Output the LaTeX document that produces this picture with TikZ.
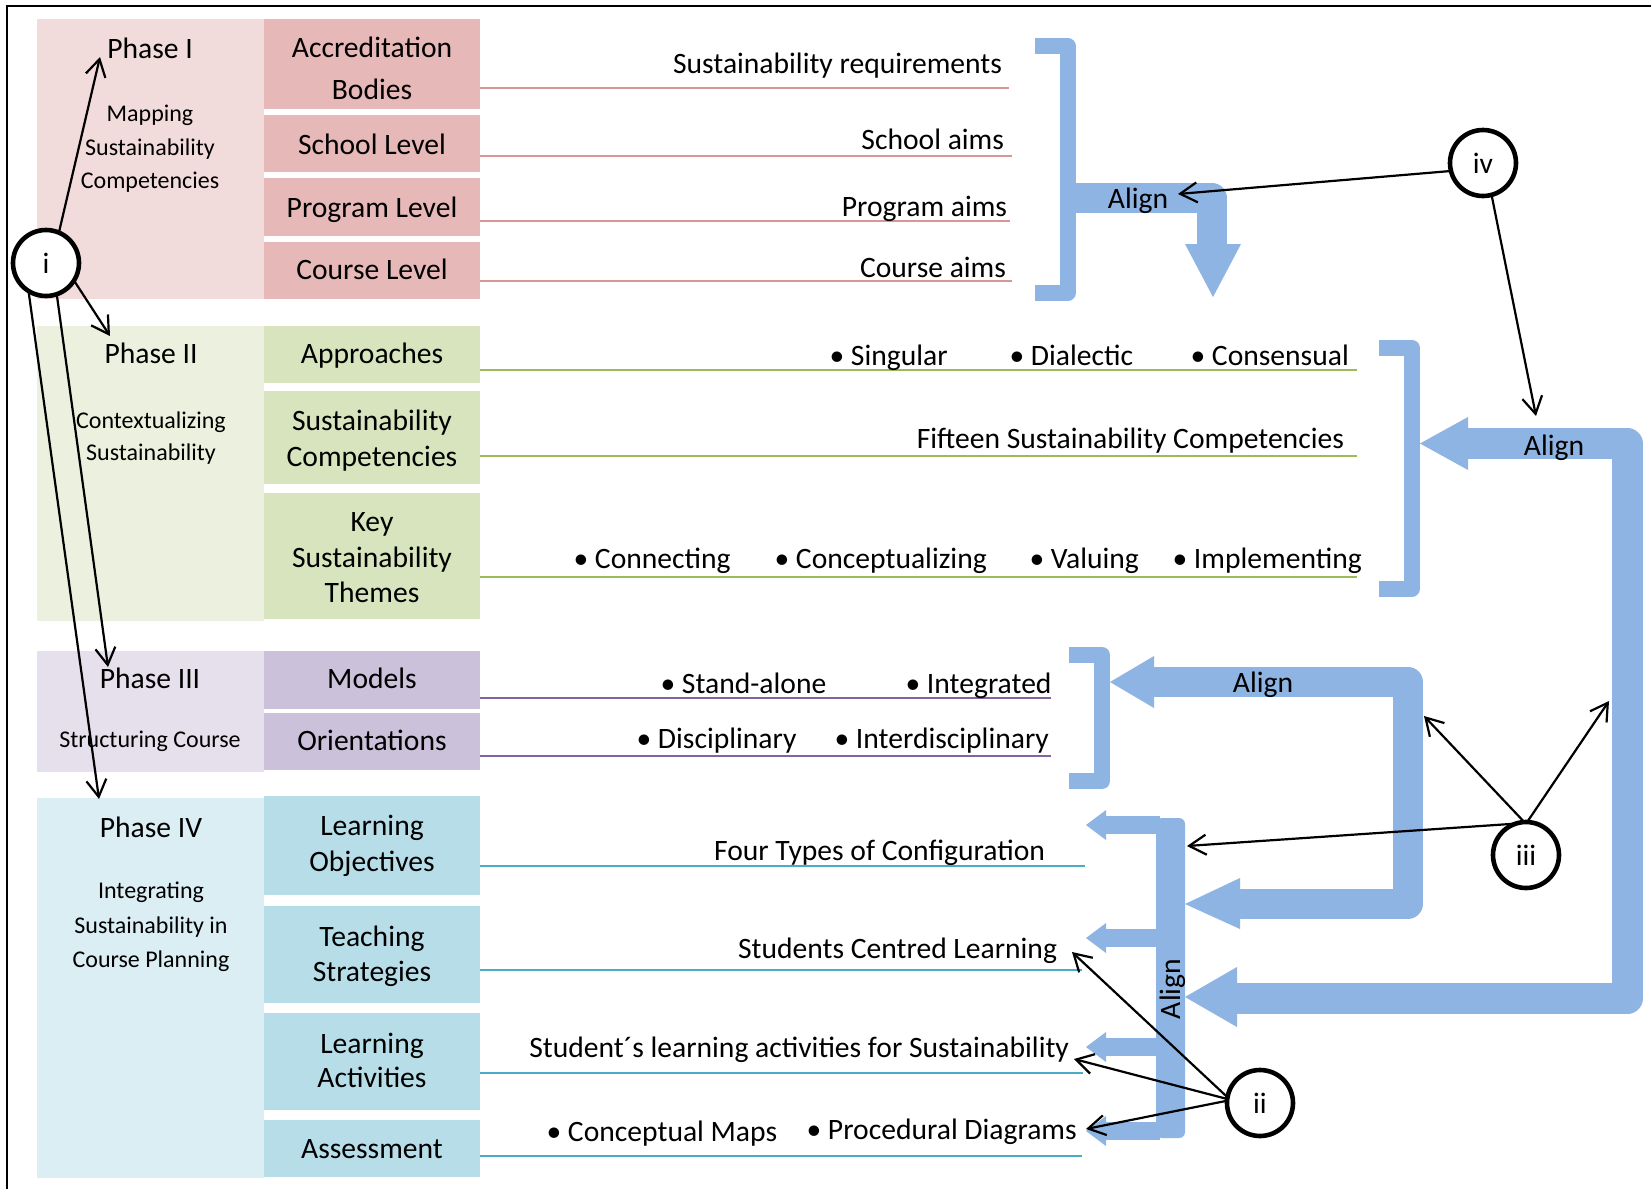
\documentclass[tikz,border=0pt]{standalone}
\usepackage{fontspec}
\setmainfont{Carlito}
\usetikzlibrary{arrows.meta}
\definecolor{pinkL}{HTML}{F2DCDB}
\definecolor{pinkD}{HTML}{E6B9B8}
\definecolor{pinkLine}{HTML}{D99694}
\definecolor{greenL}{HTML}{EBF1DE}
\definecolor{greenD}{HTML}{D7E4BD}
\definecolor{greenLine}{HTML}{9BBB59}
\definecolor{purpL}{HTML}{E6E0EC}
\definecolor{purpD}{HTML}{CCC1DA}
\definecolor{purpLine}{HTML}{8064A2}
\definecolor{blueL}{HTML}{DBEEF3}
\definecolor{blueD}{HTML}{B7DEE8}
\definecolor{blueLine}{HTML}{4BACC6}
\definecolor{alignblue}{HTML}{8EB4E3}
\newcommand\mybullet{\llap{\makebox[14pt]{•}}}
\tikzset{
  area/.style={rectangle, inner sep=0pt, outer sep=0pt, anchor=north west, draw=none},
  tx/.style={inner sep=0pt, outer sep=0pt, font=\fontsize{14.8}{17}\selectfont},
  sx/.style={inner sep=0pt, outer sep=0pt, font=\fontsize{12}{14}\selectfont},
  circ/.style={circle, draw, line width=2.3pt, fill=white, minimum size=33pt, inner sep=0pt, outer sep=0pt, font=\fontsize{14.8}{17}\selectfont},
  ptr/.style={line width=1.1pt, -{Straight Barb[length=8.5pt,width=10pt]}},
  uline/.style={line width=1pt},
  brk/.style={draw=alignblue, line width=8pt, line join=round},
  shaft/.style={draw=alignblue, line width=15pt, line join=round},
}
\begin{document}
\begin{tikzpicture}[x=0.5pt,y=-0.5pt]
\useasboundingbox (0,0) rectangle (1651,1189);
\fill[white] (0,0) rectangle (1651,1189);
\draw[line width=1pt] (1651,6) -- (7,6) -- (7,1189);

% ---------- phase areas ----------
\node[area, fill=pinkL, minimum width=113.5pt, minimum height=140pt] (ph1) at (37,19) {};
\node[area, fill=greenL, minimum width=113.5pt, minimum height=147.5pt] (ph2) at (37,326) {};
\node[area, fill=purpL, minimum width=113.5pt, minimum height=60.5pt] (ph3) at (37,651) {};
\node[area, fill=blueL, minimum width=113.5pt, minimum height=190pt] (ph4) at (37,798) {};

\node[area, fill=pinkD, minimum width=108pt, minimum height=45pt] (acc) at (264,19) {};
\node[area, fill=pinkD, minimum width=108pt, minimum height=28.5pt] (sch) at (264,115) {};
\node[area, fill=pinkD, minimum width=108pt, minimum height=29pt] (prg) at (264,178) {};
\node[area, fill=pinkD, minimum width=108pt, minimum height=28.5pt] (crs) at (264,242) {};
\node[area, fill=greenD, minimum width=108pt, minimum height=28.5pt] (app) at (264,326) {};
\node[area, fill=greenD, minimum width=108pt, minimum height=46.5pt] (scp) at (264,391) {};
\node[area, fill=greenD, minimum width=108pt, minimum height=63pt] (kst) at (264,493) {};
\node[area, fill=purpD, minimum width=108pt, minimum height=29pt] (mod) at (264,651) {};
\node[area, fill=purpD, minimum width=108pt, minimum height=28.5pt] (ori) at (264,713) {};
\node[area, fill=blueD, minimum width=108pt, minimum height=49.5pt] (lob) at (264,796) {};
\node[area, fill=blueD, minimum width=108pt, minimum height=48.5pt] (tea) at (264,906) {};
\node[area, fill=blueD, minimum width=108pt, minimum height=48.5pt] (lac) at (264,1013) {};
\node[area, fill=blueD, minimum width=108pt, minimum height=28.5pt] (ass) at (264,1120) {};

% ---------- phase texts ----------
\node[tx, anchor=base] (p1a) at (150,58) {Phase I};
\node[sx, anchor=base] (p1b) at (150,121) {Mapping};
\node[sx, anchor=base] (p1c) at (150,155) {Sustainability};
\node[sx, anchor=base] (p1d) at (150,188) {Competencies};
\node[tx, anchor=base] (p2a) at (151,363) {Phase II};
\node[sx, anchor=base] (p2b) at (151,428) {Contextualizing};
\node[sx, anchor=base] (p2c) at (151,460) {Sustainability};
\node[tx, anchor=base] (p3a) at (150,688) {Phase III};
\node[sx, anchor=base] (p3b) at (150,747) {Structuring Course};
\node[tx, anchor=base] (p4a) at (151,837) {Phase IV};
\node[sx, anchor=base] (p4b) at (151,898) {Integrating};
\node[sx, anchor=base] (p4c) at (151,933) {Sustainability in};
\node[sx, anchor=base] (p4d) at (151,967) {Course Planning};

% ---------- box texts ----------
\node[tx, anchor=base] (t1) at (372,57) {Accreditation};
\node[tx, anchor=base] (t2) at (372,99) {Bodies};
\node[tx, anchor=base] (t3) at (372,154) {School Level};
\node[tx, anchor=base] (t4) at (372,217) {Program Level};
\node[tx, anchor=base] (t5) at (372,279) {Course Level};
\node[tx, anchor=base] (t6) at (372,363) {Approaches};
\node[tx, anchor=base] (t7) at (372,430) {Sustainability};
\node[tx, anchor=base] (t8) at (372,466) {Competencies};
\node[tx, anchor=base] (t9) at (372,531) {Key};
\node[tx, anchor=base] (t10) at (372,567) {Sustainability};
\node[tx, anchor=base] (t11) at (372,602) {Themes};
\node[tx, anchor=base] (t12) at (372,688) {Models};
\node[tx, anchor=base] (t13) at (372,750) {Orientations};
\node[tx, anchor=base] (t14) at (372,835) {Learning};
\node[tx, anchor=base] (t15) at (372,871) {Objectives};
\node[tx, anchor=base] (t16) at (372,946) {Teaching};
\node[tx, anchor=base] (t17) at (372,981) {Strategies};
\node[tx, anchor=base] (t18) at (372,1053) {Learning};
\node[tx, anchor=base] (t19) at (372,1087) {Activities};
\node[tx, anchor=base] (t20) at (372,1158) {Assessment};

% ---------- underlines ----------
\draw[uline, pinkLine] (acc.east |- 0,88) -- (1009,88);
\draw[uline, pinkLine] (sch.east |- 0,156) -- (1012,156);
\draw[uline, pinkLine] (prg.east |- 0,221) -- (1010,221);
\draw[uline, pinkLine] (crs.east |- 0,281) -- (1012,281);
\draw[uline, greenLine] (app.east |- 0,370) -- (1357,370);
\draw[uline, greenLine] (scp.east |- 0,456) -- (1357,456);
\draw[uline, greenLine] (kst.east |- 0,577) -- (1357,577);
\draw[uline, purpLine] (mod.east |- 0,698) -- (1051,698);
\draw[uline, purpLine] (ori.east |- 0,756) -- (1051,756);
\draw[uline, blueLine] (lob.east |- 0,866) -- (1085,866);
\draw[uline, blueLine] (tea.east |- 0,970) -- (1082,970);
\draw[uline, blueLine] (lac.east |- 0,1073) -- (1083,1073);
\draw[uline, blueLine] (ass.east |- 0,1156) -- (1082,1156);

% ---------- line texts ----------
\node[tx, anchor=base east] (r1) at (1002,73) {Sustainability requirements};
\node[tx, anchor=base east] (r2) at (1004,149) {School aims};
\node[tx, anchor=base east] (r3) at (1007,216) {Program aims};
\node[tx, anchor=base east] (r4) at (1006,277) {Course aims};
\node[tx, anchor=base west] (g1) at (851,365) {\mybullet Singular};
\node[tx, anchor=base west] (g2) at (1031,365) {\mybullet Dialectic};
\node[tx, anchor=base west] (g3) at (1212,365) {\mybullet Consensual};
\node[tx, anchor=base east] (g4) at (1344,448) {Fifteen Sustainability Competencies};
\node[tx, anchor=base west] (g5) at (595,568) {\mybullet Connecting};
\node[tx, anchor=base west] (g6) at (796,568) {\mybullet Conceptualizing};
\node[tx, anchor=base west] (g7) at (1051,568) {\mybullet Valuing};
\node[tx, anchor=base west] (g8) at (1194,568) {\mybullet Implementing};
\node[tx, anchor=base west] (u1) at (682,693) {\mybullet Stand-alone};
\node[tx, anchor=base west] (u2) at (927,693) {\mybullet Integrated};
\node[tx, anchor=base west] (u3) at (658,748) {\mybullet Disciplinary};
\node[tx, anchor=base west] (u4) at (856,748) {\mybullet Interdisciplinary};
\node[tx, anchor=base east] (b1) at (1045,860) {Four Types of Configuration};
\node[tx, anchor=base east] (b2) at (1057,958) {Students Centred Learning};
\node[tx, anchor=base east] (b3) at (1069,1057) {Student´s learning activities for Sustainability};
\node[tx, anchor=base west] (b4) at (568,1141) {\mybullet Conceptual Maps};
\node[tx, anchor=base west] (b5) at (828,1139) {\mybullet Procedural Diagrams};

% ---------- blue align shapes ----------
% bracket 1 and down arrow
\draw[brk] (1035,46) -- (1067.5,46) -- (1067.5,293) -- (1035,293);
\draw[shaft] (1067.5,198) -- (1212,198) -- (1212,247);
\fill[alignblue] (1185,244) -- (1241,244) -- (1213,297) -- cycle;
% bracket 2 and big U
\draw[brk] (1379,347.5) -- (1411.5,347.5) -- (1411.5,589) -- (1379,589);
\draw[shaft, line width=15.5pt] (1466,443.5) -- (1627,443.5) -- (1627,998.5) -- (1235,998.5);
\fill[alignblue] (1420,443.5) -- (1468,417) -- (1468,470) -- cycle;
\fill[alignblue] (1185,997) -- (1237,967) -- (1237,1027) -- cycle;
% bracket 3 and middle U
\draw[brk] (1069,655) -- (1102,655) -- (1102,781) -- (1069,781);
\draw[shaft] (1152,682) -- (1408,682) -- (1408,903.5) -- (1238,903.5);
\fill[alignblue] (1110,682) -- (1154,656) -- (1154,708) -- cycle;
\fill[alignblue] (1185,904) -- (1240,878) -- (1240,929) -- cycle;
% vertical bar with small arrows
\fill[alignblue, rounded corners=3pt] (1156,818) rectangle (1185,1138);
\foreach \yy in {825,938,1047,1131}{
  \fill[alignblue] (1104,\yy-9) rectangle (1160,\yy+9);
  \fill[alignblue] (1086,\yy) -- (1106,\yy-15) -- (1106,\yy+15) -- cycle;
}

% Align labels
\node[tx, anchor=base] (al1) at (1138,208) {Align};
\node[tx, anchor=base] (al2) at (1554,455) {Align};
\node[tx, anchor=base] (al3) at (1263,692) {Align};
\node[tx, anchor=base, rotate=90] (al4) at (1180,989) {Align};

% ---------- circles ----------
\node[circ] (i) at (46,263) {i};
\node[circ] (iv) at (1483,163) {iv};
\node[circ] (iii) at (1526,855) {iii};
\node[circ] (ii) at (1260,1103) {ii};

% ---------- pointer arrows ----------
\coordinate (p1tip) at (100,57);
\coordinate (p2tip) at (110,336);
\coordinate (p3tip) at (108,667);
\coordinate (p4tip) at (99,799);
\draw[ptr] (i.67) -- (p1tip);
\draw[ptr] (i.-32) -- (p2tip);
\draw[ptr] (i.-71) -- (p3tip);
\draw[ptr] (i.-122) -- (p4tip);

\coordinate (al1tip) at (1178,194);
\coordinate (al2tip) at (1536,416);
\draw[ptr] (iv.-166) -- (al1tip);
\draw[ptr] (iv.-75) -- (al2tip);

\coordinate (bartip) at (1187,846);
\coordinate (midtip) at (1424,716);
\coordinate (righttip) at (1609,701);
\draw[ptr] (iii.108) -- (bartip);
\draw[ptr] (iii.93) -- (midtip);
\draw[ptr] (iii.88) -- (righttip);

\coordinate (scltip) at (1072,952);
\coordinate (slatip) at (1074,1059);
\coordinate (pdtip) at (1086,1129);
\draw[ptr] (ii.170) -- (scltip);
\draw[ptr] (ii.173) -- (slatip);
\draw[ptr] (ii.176) -- (pdtip);
\end{tikzpicture}
\end{document}
